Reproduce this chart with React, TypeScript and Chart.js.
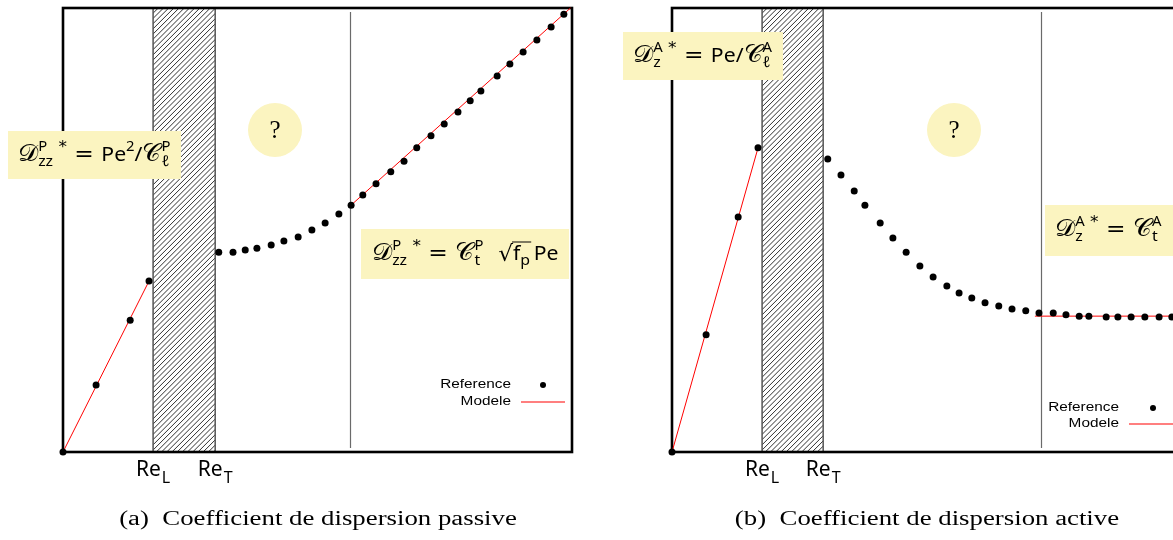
import React, { useEffect, useRef } from "react";
import { Chart, registerables } from "chart.js";

Chart.register(...registerables);

// ---------- data (schematic units: x = Re / Pe, y = dispersion coefficient) ----------
const xRange = [0, 100];
const yRange = [0, 100];

const passiveReL = 17.7;
const passiveReT = 29.9;
const passiveTransition = 56.6;
const passiveRefX = [0, 6.5, 13.2, 16.9, 30.6, 33.4, 35.8, 38.1, 40.9, 43.4, 46.2, 48.9, 51.5, 54.2, 56.6, 58.9, 61.5, 64.4, 67.0, 69.5, 72.3, 74.9, 77.6, 80.0, 82.1, 85.3, 87.8, 90.4, 93.1, 95.9, 98.4];
const passiveRefY = [0, 15.1, 29.7, 38.5, 45.0, 45.0, 45.5, 45.9, 46.6, 47.5, 48.4, 50.0, 51.6, 53.6, 55.6, 57.9, 60.4, 63.1, 65.5, 68.5, 71.2, 73.9, 76.6, 79.1, 81.3, 84.7, 87.4, 90.1, 92.8, 95.7, 98.6];
const passiveLamX = [0, 16.9];
const passiveLamY = [0, 38.5];
const passiveTurbX = [56.6, 99.7];
const passiveTurbY = [55.6, 100];

const activeReL = 17.7;
const activeReT = 29.7;
const activeTransition = 72.7;
const activeRefX = [0, 6.7, 13.0, 16.9, 30.6, 33.2, 35.8, 37.9, 40.9, 43.4, 46.0, 48.7, 51.3, 54.0, 56.4, 58.9, 61.5, 64.2, 66.8, 69.5, 72.1, 74.9, 77.4, 80.0, 81.9, 85.3, 87.6, 90.2, 92.9, 95.7, 98.2];
const activeRefY = [0, 26.4, 52.9, 68.5, 66.0, 62.4, 58.8, 55.6, 51.6, 48.2, 45.0, 41.9, 39.4, 37.4, 35.8, 34.7, 33.6, 32.9, 32.2, 31.8, 31.3, 31.3, 30.9, 30.6, 30.6, 30.4, 30.4, 30.4, 30.4, 30.4, 30.4];
const activeLamX = [0, 16.9];
const activeLamY = [0, 68.5];
const activeTurbX = [71.3, 100];
const activeTurbY = [30.6, 30.6];

const legendLabels = ["Reference", "Modele"];
const tickLabelsMain = ["Re", "Re"];
const tickLabelsSub = ["L", "T"];
const captions = ["(a)\u2002Coefficient de dispersion passive", "(b)\u2002Coefficient de dispersion active"];

// ---------- math text ----------
type Run = { t: string; k: string; stack?: boolean };
const FONTS: Record<string, { font: string; dy: number }> = {
  cal: { font: '24px "DejaVu Serif", "DejaVu Sans", serif', dy: 0 },
  up: { font: '20px "Noto Sans", "DejaVu Sans", sans-serif', dy: 0 },
  eq: { font: '22px "DejaVu Sans", sans-serif', dy: 0 },
  sup: { font: '14px "Noto Sans", "DejaVu Sans", sans-serif', dy: -10 },
  sub: { font: '15px "Noto Sans", "DejaVu Sans", sans-serif', dy: 5 },
  ast: { font: '16px "DejaVu Sans", sans-serif', dy: -9 },
  sqrt: { font: '22px "DejaVu Sans", sans-serif', dy: 1 },
  gap: { font: '20px "Noto Sans", sans-serif', dy: 0 },
  barEnd: { font: '10px sans-serif', dy: 0 },
};

const exprPassiveLam: Run[] = [
  { t: "𝒟", k: "cal" }, { t: "P", k: "sup" }, { t: "zz", k: "sub", stack: true }, { t: " *", k: "ast" },
  { t: " = ", k: "eq" }, { t: "Pe", k: "up" }, { t: "2", k: "sup" }, { t: "/", k: "up" },
  { t: "𝒞", k: "cal" }, { t: "P", k: "sup" }, { t: "ℓ", k: "sub", stack: true },
];
const exprPassiveTurb: Run[] = [
  { t: "𝒟", k: "cal" }, { t: "P", k: "sup" }, { t: "zz", k: "sub", stack: true }, { t: " *", k: "ast" },
  { t: " = ", k: "eq" }, { t: "𝒞", k: "cal" }, { t: "P", k: "sup" }, { t: "t", k: "sub", stack: true },
  { t: "  √", k: "sqrt" }, { t: "f", k: "up" }, { t: "p", k: "sub" }, { t: "", k: "barEnd" },
  { t: "\u2009", k: "gap" }, { t: "Pe", k: "up" },
];
const exprActiveLam: Run[] = [
  { t: "𝒟", k: "cal" }, { t: "A", k: "sup" }, { t: "z", k: "sub", stack: true }, { t: " *", k: "ast" },
  { t: " = ", k: "eq" }, { t: "Pe", k: "up" }, { t: "/", k: "up" },
  { t: "𝒞", k: "cal" }, { t: "A", k: "sup" }, { t: "ℓ", k: "sub", stack: true },
];
const exprActiveTurb: Run[] = [
  { t: "𝒟", k: "cal" }, { t: "A", k: "sup" }, { t: "z", k: "sub", stack: true }, { t: " *", k: "ast" },
  { t: " = ", k: "eq" }, { t: "𝒞", k: "cal" }, { t: "A", k: "sup" }, { t: "t", k: "sub", stack: true },
];

const MATH_STRETCH = 1.06;
const LEGEND_STRETCH = 1.28;
const CAPTION_STRETCH = 1.34;

function drawExpr(ctx: CanvasRenderingContext2D, runs: Run[], x: number, y: number) {
  ctx.save();
  ctx.translate(x, y);
  ctx.scale(MATH_STRETCH, 1);
  let cur = 0, lastX = 0, lastW = 0, barX = 0;
  ctx.textAlign = "left";
  ctx.textBaseline = "alphabetic";
  ctx.fillStyle = "#000";
  for (const r of runs) {
    const s = FONTS[r.k];
    if (r.k === "barEnd") {
      ctx.beginPath();
      ctx.strokeStyle = "#000";
      ctx.lineWidth = 1;
      ctx.moveTo(barX - 1, -18);
      ctx.lineTo(cur + 1, -18);
      ctx.stroke();
      continue;
    }
    ctx.font = s.font;
    const w = ctx.measureText(r.t).width;
    let x0: number;
    if (r.stack) {
      x0 = lastX;
      const adv = Math.max(lastW, w);
      cur = lastX + adv;
      lastW = adv;
    } else {
      x0 = cur;
      lastX = cur;
      lastW = w;
      cur += w;
    }
    ctx.fillText(r.t, x0, s.dy);
    if (r.k === "sqrt") barX = x0 + w;
  }
  ctx.restore();
}

const YELLOW = "#FBF4C0";

type Panel = {
  refX: number[]; refY: number[]; lamX: number[]; lamY: number[]; turbX: number[]; turbY: number[];
  reL: number; reT: number; transition: number;
  pad: { left: number; right: number; top: number; bottom: number };
  boxes: { rect: [number, number, number, number]; tx: number; ty: number; expr: Run[] }[];
  circle: [number, number, number];
  legend: { right: number; y1: number; y2: number; dotX: number; lineX0: number; lineX1: number };
};

const toPts = (xs: number[], ys: number[]) => xs.map((x, i) => ({ x, y: ys[i] }));

function makeChart(canvas: HTMLCanvasElement, p: Panel) {
  const decor = {
    id: "decor",
    beforeDatasetsDraw(chart: any) {
      const { ctx, chartArea: ca, scales } = chart;
      const xs = scales.x;
      const x0 = xs.getPixelForValue(p.reL);
      const x1 = xs.getPixelForValue(p.reT);
      const h = ca.bottom - ca.top;
      ctx.save();
      ctx.beginPath();
      ctx.rect(x0, ca.top, x1 - x0, h);
      ctx.clip();
      ctx.strokeStyle = "#1a1a1a";
      ctx.lineWidth = 0.9;
      ctx.beginPath();
      for (let k = x0 - h; k < x1 + 5; k += 5.2) {
        ctx.moveTo(k, ca.bottom);
        ctx.lineTo(k + h, ca.top);
      }
      ctx.stroke();
      ctx.restore();
      ctx.save();
      ctx.strokeStyle = "#555";
      ctx.lineWidth = 1.5;
      ctx.beginPath();
      ctx.moveTo(x0, ca.top); ctx.lineTo(x0, ca.bottom);
      ctx.moveTo(x1, ca.top); ctx.lineTo(x1, ca.bottom);
      ctx.stroke();
      // transition line
      const xt = Math.round(xs.getPixelForValue(p.transition)) - 0.5;
      ctx.strokeStyle = "#6a6a6a";
      ctx.lineWidth = 1.2;
      ctx.beginPath();
      ctx.moveTo(xt, ca.top + 4);
      ctx.lineTo(xt, ca.bottom - 4);
      ctx.stroke();
      // frame
      ctx.strokeStyle = "#000";
      ctx.lineWidth = 2.6;
      ctx.strokeRect(ca.left, ca.top, ca.right - ca.left, ca.bottom - ca.top);
      ctx.restore();
    },
    afterDatasetsDraw(chart: any) {
      const { ctx, chartArea: ca, scales } = chart;
      const xs = scales.x;
      ctx.save();
      // annotation boxes
      for (const b of p.boxes) {
        ctx.fillStyle = YELLOW;
        ctx.fillRect(b.rect[0], b.rect[1], b.rect[2], b.rect[3]);
        drawExpr(ctx, b.expr, b.tx, b.ty);
      }
      // "?" circle
      const [cx, cy, r] = p.circle;
      ctx.fillStyle = YELLOW;
      ctx.beginPath();
      ctx.arc(cx, cy, r, 0, Math.PI * 2);
      ctx.fill();
      ctx.fillStyle = "#000";
      ctx.font = '25px "Liberation Serif", serif';
      ctx.textAlign = "center";
      ctx.textBaseline = "alphabetic";
      ctx.fillText("?", cx, cy + 8);
      // legend
      const L = p.legend;
      ctx.font = '12px "Liberation Sans", Arial, sans-serif';
      ctx.textAlign = "right";
      ctx.textBaseline = "middle";
      ctx.fillStyle = "#000";
      [L.y1, L.y2].forEach((yy, i) => {
        ctx.save();
        ctx.translate(L.right, yy);
        ctx.scale(LEGEND_STRETCH, 1);
        ctx.fillText(legendLabels[i], 0, 0);
        ctx.restore();
      });
      ctx.beginPath();
      ctx.arc(L.dotX, L.y1, 3, 0, Math.PI * 2);
      ctx.fill();
      ctx.strokeStyle = "rgb(255,0,0)";
      ctx.lineWidth = 1.2;
      ctx.beginPath();
      ctx.moveTo(L.lineX0, L.y2);
      ctx.lineTo(L.lineX1, L.y2);
      ctx.stroke();
      // Re_L / Re_T labels
      const vals = [p.reL, p.reT];
      vals.forEach((v, i) => {
        const cxl = xs.getPixelForValue(v);
        ctx.textAlign = "left";
        ctx.textBaseline = "alphabetic";
        ctx.font = '21px "Noto Sans", "DejaVu Sans", sans-serif';
        const wm = ctx.measureText(tickLabelsMain[i]).width;
        ctx.font = '16px "Noto Sans", "DejaVu Sans", sans-serif';
        const ws = ctx.measureText(tickLabelsSub[i]).width;
        const start = cxl - (wm + ws + 1) / 2;
        const base = ca.bottom + 24;
        ctx.fillStyle = "#000";
        ctx.font = '21px "Noto Sans", "DejaVu Sans", sans-serif';
        ctx.fillText(tickLabelsMain[i], start, base);
        ctx.font = '16px "Noto Sans", "DejaVu Sans", sans-serif';
        ctx.fillText(tickLabelsSub[i], start + wm + 1, base + 7);
      });
      ctx.restore();
    },
  };

  return new Chart(canvas, {
    type: "scatter",
    data: {
      datasets: [
        {
          label: legendLabels[0],
          data: toPts(p.refX, p.refY),
          backgroundColor: "#000",
          borderColor: "#000",
          borderWidth: 0,
          pointRadius: 3.5,
          pointHoverRadius: 3.5,
          clip: false,
          order: 0,
        },
        {
          label: legendLabels[1],
          data: toPts(p.lamX, p.lamY),
          showLine: true,
          borderColor: "#ff0000",
          borderWidth: 1,
          pointRadius: 0,
          clip: false,
          order: 1,
        },
        {
          label: legendLabels[1],
          data: toPts(p.turbX, p.turbY),
          showLine: true,
          borderColor: "#ff0000",
          borderWidth: 1,
          pointRadius: 0,
          clip: false,
          order: 1,
        },
      ],
    },
    options: {
      responsive: false,
      animation: false,
      events: [],
      layout: { padding: p.pad },
      scales: {
        x: { type: "linear", min: xRange[0], max: xRange[1], display: false },
        y: { type: "linear", min: yRange[0], max: yRange[1], display: false },
      },
      plugins: { legend: { display: false }, tooltip: { enabled: false }, title: { display: false } },
    } as any,
    plugins: [decor],
  } as any);
}

const panelA: Panel = {
  refX: passiveRefX, refY: passiveRefY, lamX: passiveLamX, lamY: passiveLamY, turbX: passiveTurbX, turbY: passiveTurbY,
  reL: passiveReL, reT: passiveReT, transition: passiveTransition,
  pad: { left: 63, right: 28, top: 8, bottom: 88 },
  boxes: [
    { rect: [8, 131, 173, 48], tx: 18, ty: 161, expr: exprPassiveLam },
    { rect: [361, 229, 208, 50], tx: 372, ty: 260, expr: exprPassiveTurb },
  ],
  circle: [275, 130, 27],
  legend: { right: 511, y1: 385, y2: 402, dotX: 543, lineX0: 521, lineX1: 565 },
};

const panelB: Panel = {
  refX: activeRefX, refY: activeRefY, lamX: activeLamX, lamY: activeLamY, turbX: activeTurbX, turbY: activeTurbY,
  reL: activeReL, reT: activeReT, transition: activeTransition,
  pad: { left: 72, right: 19, top: 8, bottom: 88 },
  boxes: [
    { rect: [23, 32, 160, 48], tx: 33, ty: 62, expr: exprActiveLam },
    { rect: [445, 205, 150, 51], tx: 455, ty: 236, expr: exprActiveTurb },
  ],
  circle: [354, 130, 27],
  legend: { right: 519, y1: 408, y2: 424, dotX: 553, lineX0: 529, lineX1: 600 },
};

export default function App() {
  const refA = useRef<HTMLCanvasElement>(null);
  const refB = useRef<HTMLCanvasElement>(null);
  useEffect(() => {
    const a = makeChart(refA.current!, panelA);
    const b = makeChart(refB.current!, panelB);
    return () => {
      a.destroy();
      b.destroy();
    };
  }, []);
  const capStyle: React.CSSProperties = {
    position: "absolute",
    top: 507,
    width: 600,
    textAlign: "center",
    font: '20px "Liberation Serif", "Times New Roman", serif',
    color: "#000",
    whiteSpace: "nowrap",
    transform: `scaleX(${CAPTION_STRETCH})`,
    transformOrigin: "50% 50%",
  };
  return (
    <div style={{ position: "fixed", left: 0, top: 0, width: 1173, height: 540, overflow: "hidden", background: "#fff" }}>
      <canvas ref={refA} width={600} height={540} style={{ position: "absolute", left: 0, top: 0 }} />
      <canvas ref={refB} width={600} height={540} style={{ position: "absolute", left: 600, top: 0 }} />
      <div style={{ ...capStyle, left: 17.5 }}>{captions[0]}</div>
      <div style={{ ...capStyle, left: 626.5 }}>{captions[1]}</div>
    </div>
  );
}
